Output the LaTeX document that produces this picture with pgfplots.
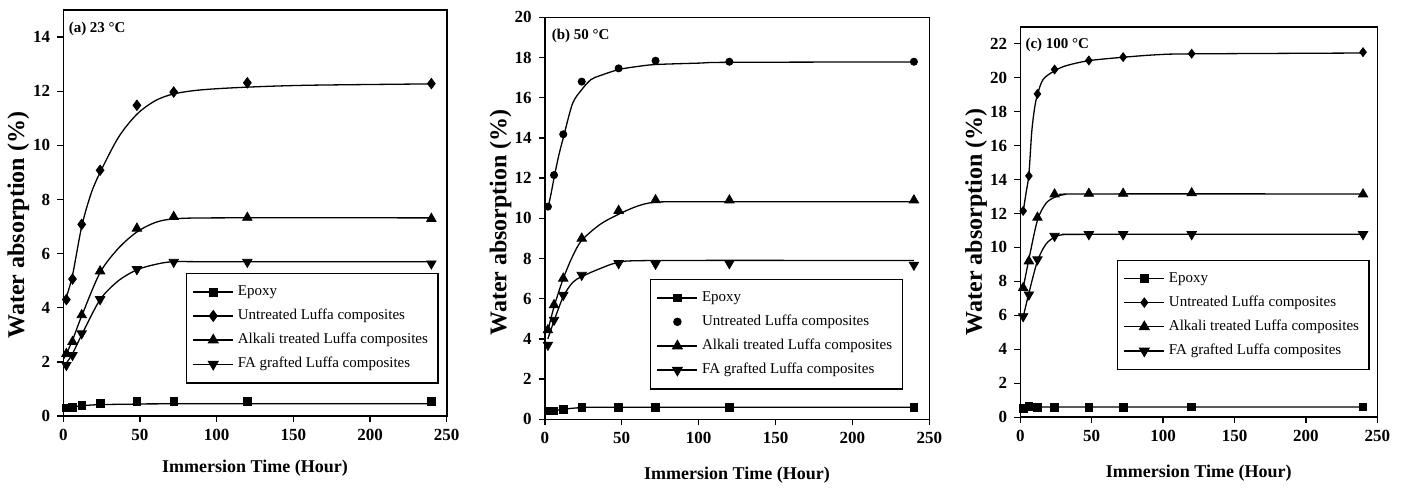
\documentclass[border=0pt]{standalone}
\usepackage{fontspec}
\setmainfont{Liberation Serif}
\usepackage{pgfplots}
\pgfplotsset{compat=1.18}

\pgfplotsset{
  panel/.style={
    scale only axis, anchor=south west,
    xmin=0, xmax=250, ymin=0,
    xtick={0,50,...,250},
    axis line style={line width=0.8pt},
    tick style={line width=0.7pt, black},
    tick align=outside, xtick pos=left, ytick pos=left,
    major tick length=3pt,
    /pgf/number format/assume math mode=true,
    tick label style={font=\fontsize{8.5}{10}\selectfont\bfseries},
    xlabel={Immersion Time (Hour)},
    ylabel={Water absorption (\%)},
    xlabel style={font=\fontsize{9}{11}\selectfont\bfseries, at={(axis description cs:0.5,0)}, anchor=center},
    ylabel style={font=\fontsize{12}{14}\selectfont\bfseries, anchor=center},
    legend cell align=left,
    legend style={draw=black, line width=0.6pt, font=\fontsize{7.5}{9}\selectfont,
      row sep=1.3pt, inner xsep=3pt, inner ysep=4pt, anchor=north west},
  },
  crv/.style={black, line width=0.65pt, smooth, tension=0.5, no markers, forget plot},
  dat/.style={black, only marks,
    legend image code/.code={\draw[black,line width=0.65pt] (0pt,0pt) -- (20pt,0pt);
      \draw[mark repeat=2,mark phase=2,##1] plot coordinates {(0pt,0pt) (10pt,0pt) (20pt,0pt)};}},
  datdot/.style={black, only marks,
    legend image code/.code={\draw[mark repeat=2,mark phase=2,##1] plot coordinates {(0pt,0pt) (10pt,0pt) (20pt,0pt)};}},
  mEp/.style={mark=square*, mark size=1.9pt},
  mUn/.style={mark=diamond*, mark size=2.6pt},
  mAl/.style={mark=triangle*, mark size=2.7pt},
  mFA/.style={mark=triangle*, mark size=2.7pt, mark options={rotate=180}},
}

\begin{document}
\begin{tikzpicture}
\path[use as bounding box] (0pt,0pt) rectangle (700.5pt,244pt);

% (a) 23 C
\begin{axis}[panel, at={(31.65pt,36pt)}, width=191.7pt, height=203pt,
  ymax=15, ytick={0,2,...,14},
  xlabel style={yshift=-26pt}, ylabel style={at={(axis description cs:-0.117,0.47)}},
  legend style={at={(rel axis cs:0.32,0.352)}}]
\addplot[crv] coordinates {(0,0.25) (2,0.3) (6,0.33) (12,0.38) (24,0.42) (48,0.44) (72,0.45) (240,0.45)};
\addplot[crv] coordinates {(0,4.2) (2,4.4) (6,5.2) (12,7.0) (18,8.2) (24,9.0) (36,10.3) (48,11.15) (60,11.65) (72,11.9) (90,12.05) (120,12.15) (160,12.22) (240,12.27)};
\addplot[crv] coordinates {(0,2.1) (2,2.3) (6,2.8) (12,3.7) (24,5.3) (36,6.2) (48,6.8) (60,7.15) (72,7.28) (100,7.32) (240,7.32)};
\addplot[crv] coordinates {(0,1.8) (2,1.95) (6,2.3) (12,3.0) (24,4.3) (36,5.0) (48,5.4) (60,5.6) (72,5.7) (100,5.7) (240,5.7)};
\addplot[dat, mEp] coordinates {(2,0.30) (6,0.32) (12,0.40) (24,0.46) (48,0.55) (72,0.55) (120,0.55) (240,0.53)};
\addlegendentry{Epoxy}
\addplot[dat, mUn] coordinates {(2,4.3) (6,5.06) (12,7.08) (24,9.08) (48,11.48) (72,11.97) (120,12.31) (240,12.28)};
\addlegendentry{Untreated Luffa composites}
\addplot[dat, mAl] coordinates {(2,2.3) (6,2.74) (12,3.73) (24,5.35) (48,6.93) (72,7.36) (120,7.33) (240,7.29)};
\addlegendentry{Alkali treated Luffa composites}
\addplot[dat, mFA] coordinates {(2,1.88) (6,2.25) (12,3.05) (24,4.31) (48,5.42) (72,5.69) (120,5.69) (240,5.63)};
\addlegendentry{FA grafted Luffa composites}
\node[anchor=north west, inner sep=1pt, font=\fontsize{7.5}{9}\selectfont\bfseries] at (rel axis cs:0.008,0.975) {(a) 23 °C};
\end{axis}

% (b) 50 C
\begin{axis}[panel, at={(272.4pt,34.35pt)}, width=192.25pt, height=201pt,
  ymax=20, ytick={0,2,...,20},
  xlabel style={yshift=-28pt}, ylabel style={at={(axis description cs:-0.115,0.49)}},
  legend style={at={(rel axis cs:0.274,0.349)}}]
\addplot[crv] coordinates {(0,0.2) (2,0.38) (6,0.42) (12,0.5) (24,0.58) (48,0.6) (240,0.6)};
\addplot[crv] coordinates {(2,10.5) (4,11.2) (6,12.0) (9,13.1) (12,14.0) (18,15.7) (24,16.4) (30,16.9) (36,17.1) (48,17.4) (60,17.55) (72,17.65) (100,17.72) (120,17.76) (240,17.78)};
\addplot[crv] coordinates {(2,4.4) (6,5.6) (12,7.0) (18,8.1) (24,8.9) (36,9.7) (48,10.2) (60,10.6) (72,10.8) (100,10.82) (240,10.82)};
\addplot[crv] coordinates {(2,4.0) (6,4.9) (12,6.1) (18,6.8) (24,7.1) (36,7.5) (48,7.8) (72,7.9) (240,7.9)};
\addplot[dat, mEp] coordinates {(2,0.41) (6,0.41) (12,0.5) (24,0.6) (48,0.6) (72,0.6) (120,0.6) (240,0.6)};
\addlegendentry{Epoxy}
\addplot[datdot, mark=*, mark size=1.8pt] coordinates {(2,10.58) (6,12.15) (12,14.18) (24,16.8) (48,17.46) (72,17.84) (120,17.79) (240,17.79)};
\addlegendentry{Untreated Luffa composites}
\addplot[dat, mAl] coordinates {(2,4.44) (6,5.69) (12,7.01) (24,9.0) (48,10.38) (72,10.91) (120,10.9) (240,10.9)};
\addlegendentry{Alkali treated Luffa composites}
\addplot[dat, mFA] coordinates {(2,3.70) (6,4.94) (12,6.18) (24,7.18) (48,7.76) (72,7.73) (120,7.76) (240,7.68)};
\addlegendentry{FA grafted Luffa composites}
\node[anchor=north west, inner sep=1pt, font=\fontsize{7.5}{9}\selectfont\bfseries] at (rel axis cs:0.012,0.976) {(b) 50 °C};
\end{axis}

% (c) 100 C
\begin{axis}[panel, at={(510.15pt,35.4pt)}, width=178.5pt, height=195.25pt,
  ymax=23, ytick={0,2,...,22},
  xlabel style={yshift=-28pt}, ylabel style={at={(axis description cs:-0.124,0.5)}},
  legend style={at={(rel axis cs:0.271,0.403)}}]
\addplot[crv] coordinates {(0,0.4) (2,0.5) (6,0.58) (12,0.6) (240,0.6)};
\addplot[crv] coordinates {(2,12.1) (4,13.2) (6,14.3) (8,16.8) (10,18.2) (12,19.0) (16,19.9) (24,20.4) (32,20.7) (48,21.0) (72,21.2) (96,21.35) (120,21.4) (240,21.45)};
\addplot[crv] coordinates {(2,7.6) (6,9.3) (12,11.6) (18,12.6) (24,12.95) (30,13.1) (48,13.15) (240,13.15)};
\addplot[crv] coordinates {(2,5.9) (6,7.3) (12,9.2) (18,10.2) (24,10.6) (30,10.75) (48,10.77) (240,10.77)};
\addplot[dat, mEp] coordinates {(2,0.52) (6,0.62) (12,0.58) (24,0.58) (48,0.58) (72,0.58) (120,0.6) (240,0.6)};
\addlegendentry{Epoxy}
\addplot[dat, mUn, mark size=2.2pt] coordinates {(2,12.15) (6,14.21) (12,19.04) (24,20.48) (48,21.01) (72,21.21) (120,21.41) (240,21.5)};
\addlegendentry{Untreated Luffa composites}
\addplot[dat, mAl] coordinates {(2,7.62) (6,9.19) (12,11.76) (24,13.13) (48,13.17) (72,13.17) (120,13.2) (240,13.13)};
\addlegendentry{Alkali treated Luffa composites}
\addplot[dat, mFA] coordinates {(2,5.94) (6,7.22) (12,9.29) (24,10.67) (48,10.77) (72,10.77) (120,10.77) (240,10.77)};
\addlegendentry{FA grafted Luffa composites}
\node[anchor=north west, inner sep=1pt, font=\fontsize{7.5}{9}\selectfont\bfseries] at (rel axis cs:0.008,0.976) {(c) 100 °C};
\end{axis}
\end{tikzpicture}
\end{document}
